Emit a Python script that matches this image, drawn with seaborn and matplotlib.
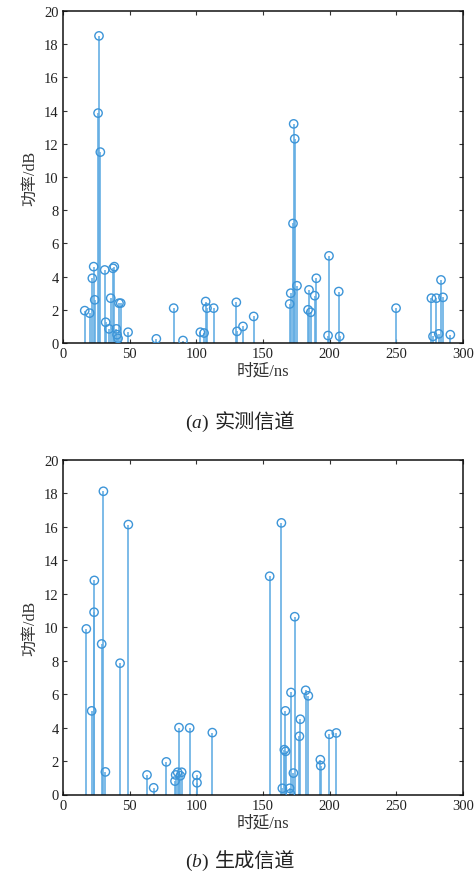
import matplotlib
matplotlib.use("Agg")
import matplotlib.pyplot as plt
import seaborn as sns
import pandas as pd

# ---- data ----
delay_a = [16.3, 20, 22, 23, 23.8, 26.3, 27, 28, 31.3, 32, 34.5, 35.8, 37.5, 38.5, 40, 40.5, 41.3,
           42, 43.3, 48.8, 70, 83, 90, 103, 105.8, 107, 108, 113, 130, 130.5, 135, 143,
           170, 170.8, 172.5, 173, 173.8, 175.5, 183.8, 184.5, 185.8, 188.8, 190, 198.8, 199.5,
           206.8, 207.5, 249.8, 276.3, 277.5, 280, 281.8, 283.5, 285, 290.5]
power_a = [1.95, 1.8, 3.9, 4.6, 2.6, 13.85, 18.5, 11.5, 4.4, 1.25, 0.85, 2.7, 4.5, 4.6, 0.85, 0.5, 0.28,
           2.4, 2.4, 0.65, 0.25, 2.1, 0.15, 0.65, 0.6, 2.5, 2.1, 2.1, 2.45, 0.7, 1.0, 1.6,
           2.35, 3.0, 7.2, 13.2, 12.3, 3.45, 2.0, 3.2, 1.85, 2.85, 3.9, 0.45, 5.25,
           3.1, 0.4, 2.1, 2.7, 0.4, 2.7, 0.55, 3.8, 2.75, 0.5]

delay_b = [17.5, 21.5, 23.3, 23.5, 29, 30.3, 31.8, 42.8, 49, 63, 68, 77.5, 84, 84.5, 86, 87, 88, 89,
           95, 100.3, 100.5, 112, 155, 163.8, 164.5, 166, 166.8, 167, 170, 170.5, 171, 172.8,
           173.8, 177.3, 178, 182, 184, 193, 193.3, 199.8, 205]
power_b = [9.9, 5.0, 10.9, 12.8, 9.0, 18.13, 1.35, 7.85, 16.14, 1.17, 0.4, 1.95, 0.8, 1.17, 1.33, 4.0, 1.12, 1.33,
           3.98, 1.15, 0.7, 3.7, 13.05, 16.24, 0.37, 2.68, 5.0, 2.58, 0.37, 0.05, 6.1, 1.28,
           10.63, 3.48, 4.5, 6.23, 5.9, 2.08, 1.72, 3.6, 3.68]

x_ticks = [0, 50, 100, 150, 200, 250, 300]
y_ticks = [0, 2, 4, 6, 8, 10, 12, 14, 16, 18, 20]
x_label = "时延/ns"
y_label = "功率/dB"
captions = [("a", "实测信道"), ("b", "生成信道")]

sns.set_theme(style="ticks")
plt.rcParams["font.family"] = ["Liberation Serif", "Noto Sans CJK SC"]
plt.rcParams["mathtext.fontset"] = "custom"
plt.rcParams["mathtext.it"] = "Liberation Serif:italic"
plt.rcParams["mathtext.rm"] = "Liberation Serif"

stem_color = "#62ade3"
marker_color = "#3d95d8"

fig = plt.figure(figsize=(4.76, 8.87), dpi=100)
ax_a = fig.add_axes([63 / 476, 1 - 344 / 887, 400 / 476, 332 / 887])
ax_b = fig.add_axes([63 / 476, 1 - 795.5 / 887, 400 / 476, 334.5 / 887])

for ax, xs, ys, (letter, cap), cap_y in [
    (ax_a, delay_a, power_a, captions[0], 1 - 423 / 887),
    (ax_b, delay_b, power_b, captions[1], 1 - 862 / 887),
]:
    df = pd.DataFrame({"delay": xs, "power": ys})
    ax.vlines(df["delay"], 0, df["power"], color=stem_color, linewidth=1.3, alpha=0.9, zorder=2)
    sns.scatterplot(data=df, x="delay", y="power", ax=ax, marker="o", s=36,
                    facecolors="none", edgecolor=marker_color, linewidth=1.0, zorder=3)
    ax.set_xlim(0, 300)
    ax.set_ylim(0, 20)
    ax.set_xticks(x_ticks)
    ax.set_yticks(y_ticks)
    ax.tick_params(direction="in", top=True, right=True, length=3, width=0.8,
                   labelsize=10.5, color="#333333", labelcolor="#222222", pad=3)
    for sp in ax.spines.values():
        sp.set_visible(True)
        sp.set_color("#111111")
        sp.set_linewidth(1.1)
    ax.set_xlabel(x_label, fontsize=12, color="#333333", labelpad=2)
    ax.set_ylabel(y_label, fontsize=11.5, color="#333333", labelpad=4)
    ax.grid(False)
    fig.text(209 / 476, cap_y, f"$({letter})$", ha="right", va="center",
             fontsize=14, color="#222222")
    fig.text(215 / 476, cap_y, cap, ha="left", va="center",
             fontsize=14.5, color="#222222")

fig.savefig("out.png", dpi=100)
